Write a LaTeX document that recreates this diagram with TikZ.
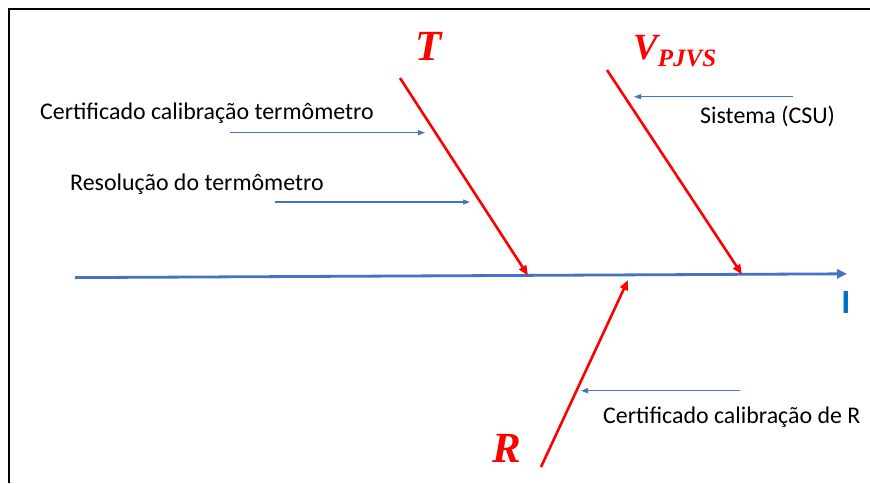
\documentclass[tikz,border=0pt]{standalone}
\usepackage{fontspec}
\setmainfont{Carlito}
\newfontfamily\labfont{Liberation Serif}
\usetikzlibrary{arrows.meta}
\definecolor{axisblue}{HTML}{4472C4}
\definecolor{ibue}{HTML}{0070C0}
\definecolor{cred}{HTML}{FF0000}
\tikzset{
  causearrow/.style={draw=cred, line width=2.6pt, -{Triangle[length=10pt,width=8pt]}},
  mainarrow/.style={draw=axisblue, line width=2.8pt, -{Triangle[length=10pt,width=9pt]}},
  subarrow/.style={draw=axisblue, line width=1.1pt, -{Triangle[length=7pt,width=5pt]}},
  txt/.style={inner sep=0pt, anchor=base west, font=\fontsize{23.9}{26}\selectfont},
  biglab/.style={inner sep=0pt, anchor=base, text=cred, font=\labfont\bfseries\itshape\fontsize{43}{45}\selectfont}
}
\begin{document}
\begin{tikzpicture}[x=1pt,y=-1pt]
\useasboundingbox (0,0) rectangle (870,483);
\fill[white] (0,0) rectangle (870,483);
\coordinate (f0) at (9,483);
\coordinate (f1) at (9,9);
\coordinate (f2) at (870,9);
\draw[line width=2pt, black] (f0) -- (f1) -- (f2);
% main axis
\coordinate (a0) at (75,277.6);
\coordinate (a1) at (847,273.8);
\draw[mainarrow] (a0) -- (a1);
\node[inner sep=0pt, anchor=center, text=ibue, font=\bfseries\fontsize{34}{36}\selectfont] (I) at (846,302) {I};
% causes
\coordinate (t0) at (400,78);
\coordinate (t1) at (528,275.5);
\draw[causearrow] (t0) -- (t1);
\coordinate (v0) at (607,70);
\coordinate (v1) at (742,274.5);
\draw[causearrow] (v0) -- (v1);
\coordinate (r0) at (541,467);
\coordinate (r1) at (628,280);
\draw[causearrow] (r0) -- (r1);
% labels
\node[biglab] (T) at (428.5,60) {T};
\node[biglab, anchor=base west, font=\labfont\bfseries\itshape\fontsize{37}{39}\selectfont] (V) at (633,59) {V\raisebox{-7.5pt}{\fontsize{25}{26}\selectfont PJVS}};
\node[biglab] (R) at (507,462) {R};
% sub causes
\node[txt] (c1) at (40,119) {Certificado calibração termômetro};
\coordinate (c1a) at (230,132.7);
\coordinate (c1b) at (425,132.7);
\draw[subarrow] (c1a) -- (c1b);
\node[txt] (c2) at (70,190) {Resolução do termômetro};
\coordinate (c2a) at (275,202);
\coordinate (c2b) at (470,202);
\draw[subarrow] (c2a) -- (c2b);
\node[txt] (c3) at (700,123) {Sistema (CSU)};
\coordinate (c3a) at (793,96.7);
\coordinate (c3b) at (634,96.7);
\draw[subarrow] (c3a) -- (c3b);
\node[txt] (c4) at (603,423) {Certificado calibração de R};
\coordinate (c4a) at (740,390.7);
\coordinate (c4b) at (581,390.7);
\draw[subarrow] (c4a) -- (c4b);
\end{tikzpicture}
\end{document}
